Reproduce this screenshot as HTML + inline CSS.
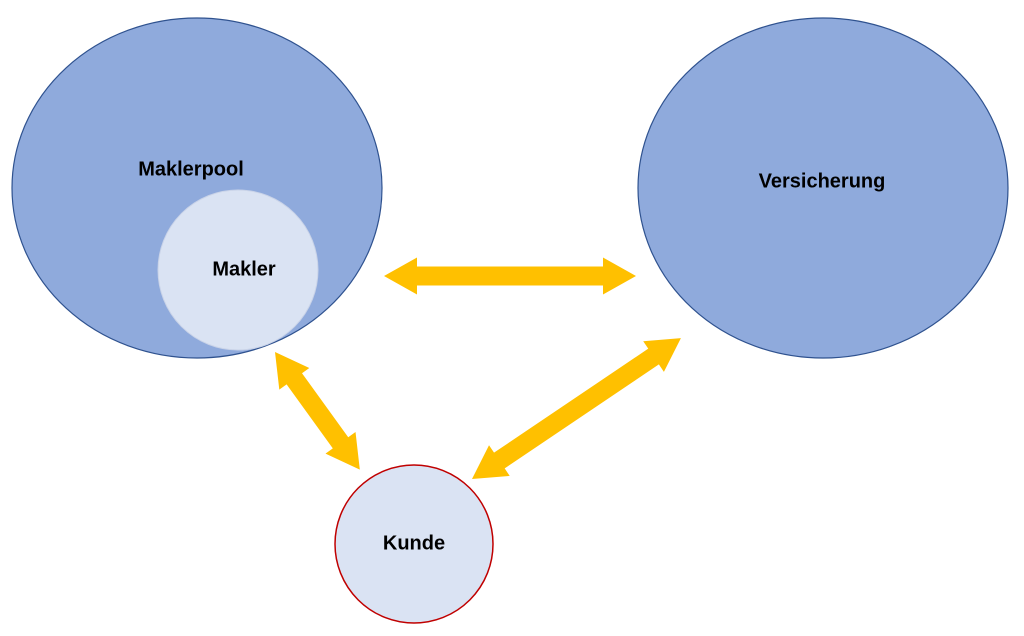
<!DOCTYPE html>
<html><head><meta charset="utf-8"><style>
html,body{margin:0;padding:0;background:#fff;}
svg{display:block;}
text{font-family:"Liberation Sans",sans-serif;font-weight:bold;font-size:20px;fill:#000;text-anchor:middle;dominant-baseline:middle;}
</style></head><body>
<svg width="1024" height="636" viewBox="0 0 1024 636">
<defs>
<polygon id="a252" points="0,0 33,-18.5 33,-9.5 219,-9.5 219,-18.5 252,0 219,18.5 219,9.5 33,9.5 33,18.5" fill="#ffc000"/>
<polygon id="a145" points="0,0 33,-18.5 33,-9.5 112,-9.5 112,-18.5 145,0 112,18.5 112,9.5 33,9.5 33,18.5" fill="#ffc000"/>
</defs>
<ellipse cx="197" cy="188" rx="185" ry="170" fill="#8faadc" stroke="#2f528f" stroke-width="1.2"/>
<circle cx="238" cy="270" r="80" fill="#dae3f3" stroke="#c9d3e8" stroke-width="1"/>
<ellipse cx="823" cy="188" rx="185" ry="170" fill="#8faadc" stroke="#2f528f" stroke-width="1.2"/>
<circle cx="414" cy="544" r="79" fill="#dae3f3" stroke="#c00000" stroke-width="1.5"/>
<use href="#a252" transform="translate(384,276)"/>
<use href="#a145" transform="translate(275,352) rotate(54.2)"/>
<use href="#a252" transform="translate(472,479) rotate(-34)"/>
<text x="191" y="170">Maklerpool</text>
<text x="244" y="270">Makler</text>
<text x="822" y="182">Versicherung</text>
<text x="414" y="544">Kunde</text>
</svg>
</body></html>
